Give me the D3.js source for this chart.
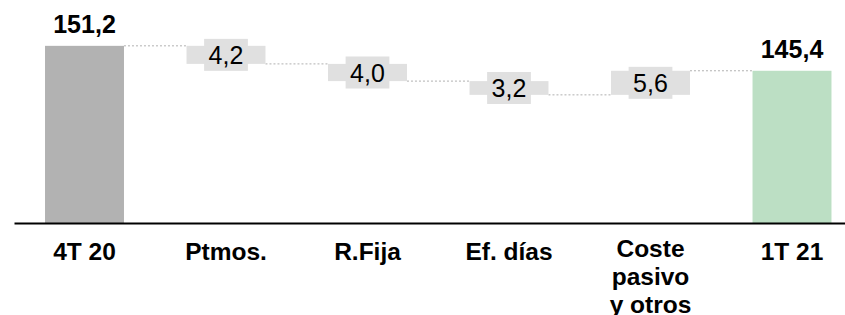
<!DOCTYPE html>
<html>
<head>
<meta charset="utf-8">
<script src="https://cdn.jsdelivr.net/npm/d3@7"></script>
<style>
  html, body { margin: 0; padding: 0; background: #ffffff; }
  svg { display: block; }
  text { font-family: "Liberation Sans", Arial, Helvetica, sans-serif; }
</style>
</head>
<body>
<svg id="chart" width="845" height="315"></svg>
<script>
// ---- data ----
const categories = ["4T 20", "Ptmos.", "R.Fija", "Ef. días", "Coste pasivo y otros", "1T 21"];
const categoryLines = [["4T 20"], ["Ptmos."], ["R.Fija"], ["Ef. días"], ["Coste", "pasivo", "y otros"], ["1T 21"]];
const values = [151.2, -4.2, -4.0, -3.2, 5.6, 145.4];
const kinds = ["total", "delta", "delta", "delta", "delta", "total"];
const yDomain = [110, 160];

// ---- styles ----
const colors = { first: "#b2b2b2", last: "#bcdfc4", delta: "#e0e0e0", connector: "#b0b0b0", axis: "#000000", text: "#000000" };

const svg = d3.select("#chart");

const x = d3.scaleBand()
  .domain(categories)
  .range([13.75, 862.75])
  .paddingInner(0.442)
  .paddingOuter(0.221);

const y = d3.scaleLinear().domain(yDomain).range([223, 8]);

const locale = d3.formatLocale({ decimal: ",", thousands: ".", grouping: [3], currency: ["", "€"] });
const fmt = locale.format(".1f");

// compute bars
let running = 0;
const bars = categories.map((c, i) => {
  let y0, y1;
  if (kinds[i] === "total") {
    y0 = yDomain[0]; y1 = values[i]; running = values[i];
  } else {
    y0 = running; y1 = running + values[i]; running = y1;
  }
  return { cat: c, i, kind: kinds[i], v: values[i], lo: Math.min(y0, y1), hi: Math.max(y0, y1), end: running };
});

// connectors
const conn = svg.append("g");
for (let i = 0; i < bars.length - 1; i++) {
  const lvl = bars[i].end;
  conn.append("line")
    .attr("x1", x(bars[i].cat) + x.bandwidth())
    .attr("x2", x(bars[i + 1].cat))
    .attr("y1", y(lvl)).attr("y2", y(lvl))
    .attr("stroke", colors.connector)
    .attr("stroke-width", 1)
    .attr("stroke-dasharray", "2,2");
}

// bars
svg.append("g").selectAll("rect")
  .data(bars)
  .join("rect")
  .attr("x", d => x(d.cat))
  .attr("width", x.bandwidth())
  .attr("y", d => y(d.hi))
  .attr("height", d => y(d.lo) - y(d.hi))
  .attr("fill", d => d.kind === "total" ? (d.i === 0 ? colors.first : colors.last) : colors.delta);

// axis baseline (d3 axis without ticks)
const axisG = svg.append("g")
  .attr("transform", `translate(0,${y(yDomain[0])})`)
  .call(d3.axisBottom(d3.scaleLinear().range([14, 845])).ticks(0).tickSize(0).tickSizeOuter(0));
axisG.select(".domain").attr("stroke", colors.axis).attr("stroke-width", 2);
axisG.selectAll("text").remove();

// category labels
const catG = svg.append("g");
bars.forEach((d, i) => {
  const t = catG.append("text")
    .attr("x", x(d.cat) + x.bandwidth() / 2)
    .attr("y", categoryLines[i].length > 1 ? 257 : 260)
    .attr("text-anchor", "middle")
    .attr("font-size", 24.5)
    .attr("font-weight", "bold")
    .attr("fill", colors.text);
  categoryLines[i].forEach((ln, k) => {
    t.append("tspan")
      .attr("x", x(d.cat) + x.bandwidth() / 2)
      .attr("dy", k === 0 ? 0 : 28)
      .text(ln);
  });
});

// value labels
const lblG = svg.append("g");
bars.forEach(d => {
  const cx = x(d.cat) + x.bandwidth() / 2;
  if (d.kind === "total") {
    lblG.append("text")
      .attr("x", cx).attr("y", y(d.hi) - 12.5)
      .attr("text-anchor", "middle")
      .attr("font-size", 25).attr("font-weight", "bold")
      .attr("fill", colors.text)
      .text(fmt(d.v));
  } else {
    const cy = (y(d.lo) + y(d.hi)) / 2;
    const g = lblG.append("g");
    const rect = g.append("rect").attr("fill", colors.delta);
    const t = g.append("text")
      .attr("x", cx).attr("y", cy + 9)
      .attr("text-anchor", "middle")
      .attr("font-size", 25)
      .attr("fill", colors.text)
      .text(fmt(Math.abs(d.v)));
    const bb = t.node().getBBox();
    const bw = bb.width + 9;
    rect.attr("x", cx - bw / 2).attr("width", bw)
      .attr("y", cy - 16).attr("height", 32);
  }
});
</script>
</body>
</html>
